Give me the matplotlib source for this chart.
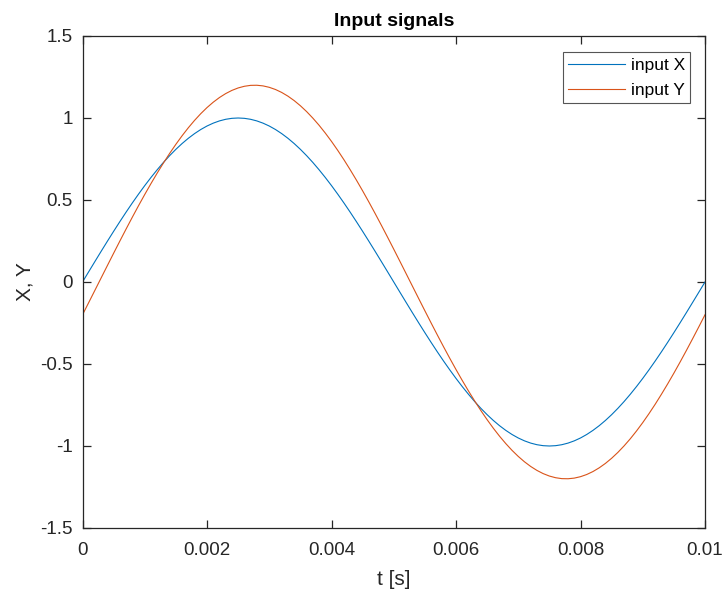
import matplotlib
matplotlib.use("Agg")
import matplotlib.pyplot as plt

plt.rcParams["font.family"] = ["Liberation Sans", "DejaVu Sans"]
plt.rcParams["axes.unicode_minus"] = False

# time samples [s], 0.1 ms apart
t = [i * 0.0001 for i in range(101)]

# input X samples
x_vals = [
    0.0000, 0.0628, 0.1253, 0.1874, 0.2487, 0.3090, 0.3681, 0.4258, 0.4818, 0.5358,
    0.5878, 0.6374, 0.6845, 0.7290, 0.7705, 0.8090, 0.8443, 0.8763, 0.9048, 0.9298,
    0.9511, 0.9686, 0.9823, 0.9921, 0.9980, 1.0000, 0.9980, 0.9921, 0.9823, 0.9686,
    0.9511, 0.9298, 0.9048, 0.8763, 0.8443, 0.8090, 0.7705, 0.7290, 0.6845, 0.6374,
    0.5878, 0.5358, 0.4818, 0.4258, 0.3681, 0.3090, 0.2487, 0.1874, 0.1253, 0.0628,
    0.0000, -0.0628, -0.1253, -0.1874, -0.2487, -0.3090, -0.3681, -0.4258, -0.4818, -0.5358,
    -0.5878, -0.6374, -0.6845, -0.7290, -0.7705, -0.8090, -0.8443, -0.8763, -0.9048, -0.9298,
    -0.9511, -0.9686, -0.9823, -0.9921, -0.9980, -1.0000, -0.9980, -0.9921, -0.9823, -0.9686,
    -0.9511, -0.9298, -0.9048, -0.8763, -0.8443, -0.8090, -0.7705, -0.7290, -0.6845, -0.6374,
    -0.5878, -0.5358, -0.4818, -0.4258, -0.3681, -0.3090, -0.2487, -0.1874, -0.1253, -0.0628,
    0.0000,
]

# input Y samples
y_vals = [
    -0.2000, -0.1253, -0.0501, 0.0253, 0.1005, 0.1754, 0.2496, 0.3228, 0.3948, 0.4652,
    0.5337, 0.6001, 0.6642, 0.7255, 0.7842, 0.8396, 0.8918, 0.9405, 0.9854, 1.0265,
    1.0635, 1.0963, 1.1248, 1.1488, 1.1683, 1.1832, 1.1934, 1.1990, 1.1997, 1.1958,
    1.1871, 1.1738, 1.1558, 1.1332, 1.1062, 1.0748, 1.0392, 0.9994, 0.9559, 0.9083,
    0.8573, 0.8028, 0.7453, 0.6846, 0.6215, 0.5559, 0.4880, 0.4182, 0.3467, 0.2739,
    0.2000, 0.1253, 0.0501, -0.0253, -0.1005, -0.1754, -0.2496, -0.3228, -0.3948, -0.4652,
    -0.5337, -0.6001, -0.6642, -0.7255, -0.7842, -0.8396, -0.8918, -0.9405, -0.9854, -1.0265,
    -1.0635, -1.0963, -1.1248, -1.1488, -1.1683, -1.1832, -1.1934, -1.1990, -1.1997, -1.1958,
    -1.1871, -1.1738, -1.1558, -1.1332, -1.1062, -1.0748, -1.0392, -0.9994, -0.9559, -0.9083,
    -0.8573, -0.8028, -0.7453, -0.6846, -0.6215, -0.5559, -0.4880, -0.4182, -0.3467, -0.2739,
    -0.2000,
]

xticks = [0, 0.002, 0.004, 0.006, 0.008, 0.01]
xtick_labels = ["0", "0.002", "0.004", "0.006", "0.008", "0.01"]
yticks = [-1.5, -1, -0.5, 0, 0.5, 1, 1.5]
ytick_labels = ["-1.5", "-1", "-0.5", "0", "0.5", "1", "1.5"]

W, H = 726, 594
fig = plt.figure(figsize=(W / 100, H / 100), dpi=100)
ax = fig.add_axes([82.5 / W, 1 - 528 / H, (705 - 82.5) / W, (528 - 36) / H])

ax.plot(t, x_vals, color="#0072BD", lw=0.8, label="input X")
ax.plot(t, y_vals, color="#D95319", lw=0.8, label="input Y")

ax.set_xlim(0, 0.01)
ax.set_ylim(-1.5, 1.5)
ax.set_xticks(xticks)
ax.set_xticklabels(xtick_labels)
ax.set_yticks(yticks)
ax.set_yticklabels(ytick_labels)

axc = "#262626"
for s in ax.spines.values():
    s.set_color(axc)
    s.set_linewidth(0.9)
ax.tick_params(direction="in", length=6, width=0.9, color=axc, labelcolor=axc,
               labelsize=13.5, top=True, right=True)
ax.tick_params(axis="x", pad=10)
ax.tick_params(axis="y", pad=7)

ax.set_title("Input signals", fontsize=14, fontweight="bold", color="black", pad=7)
ax.set_xlabel("t [s]", fontsize=15, color=axc, labelpad=8)
ax.set_ylabel("X, Y", fontsize=15, color=axc, labelpad=4)

leg = ax.legend(loc="upper right", bbox_to_anchor=(0.976, 0.967), fancybox=False,
                framealpha=1, edgecolor="#555555", fontsize=12.5, handlelength=3.3,
                handletextpad=0.3, borderpad=0.3, labelspacing=0.6,
                borderaxespad=0)
leg.get_frame().set_linewidth(0.8)

fig.savefig("out.png", dpi=100)
